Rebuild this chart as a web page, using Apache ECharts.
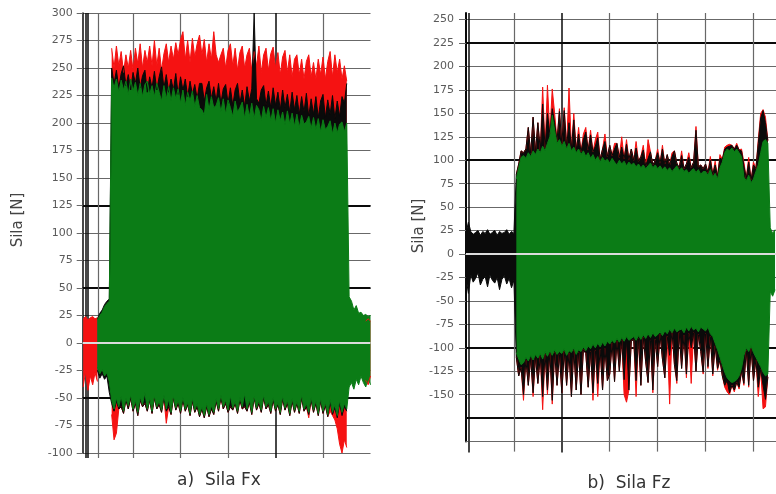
<!DOCTYPE html>
<html>
<head>
<meta charset="utf-8">
<script src="https://cdn.jsdelivr.net/npm/echarts@6/dist/echarts.min.js"></script>
<style>
  html, body { margin: 0; padding: 0; background: #fff; }
  #chart { width: 776px; height: 494px; }
</style>
</head>
<body>
<div id="chart"></div>
<script>
// ---- a) Sila Fx : sample times (grid units) and force envelopes [N]
const fxTime = [];
for (let i = 0; i < 122; i++) fxTime.push(-0.5 + 0.5 * i);

const fxRedHi = [22, 24, 21, 23, 24, 22, 23, null, null, null,
  null, null, 268, 250, 270, 252, 265, 246, 262, 250,
  266, 248, 268, 254, 272, 250, 266, 255, 270, 252,
  275, 252, 268, 248, 263, 272, 255, 270, 258, 273,
  262, 276, 283, 258, 275, 255, 277, 260, 272, 280,
  262, 276, 255, 272, 258, 283, 262, 255, 262, 268,
  250, 266, 272, 252, 268, 248, 264, 270, 250, 262,
  268, 248, 265, 252, 270, 246, 262, 268, 248, 263,
  269, 250, 264, 244, 260, 266, 246, 262, 242, 258,
  262, 244, 258, 240, 256, 262, 242, 255, 240, 258,
  244, 260, 240, 256, 265, 242, 262, 246, 258, 240,
  252, 238, null, null, null, null, null, null, null, 20,
  22, 20];
const fxRedLo = [-40, -26, -43, -30, -38, -27, -35, null, null, null,
  null, null, -65, -88, -82, -60, -58, -64, -52, -60,
  -50, -62, -55, -66, -52, -58, -55, -62, -52, -64,
  -50, -60, -56, -63, -50, -73, -58, -65, -50, -61,
  -55, -64, -52, -62, -56, -66, -53, -63, -58, -67,
  -60, -68, -58, -67, -60, -65, -53, -62, -50, -60,
  -55, -63, -58, -61, -55, -64, -52, -60, -58, -62,
  -54, -65, -50, -61, -55, -63, -50, -60, -56, -64,
  -52, -62, -56, -65, -51, -61, -55, -66, -53, -63,
  -55, -64, -50, -62, -58, -68, -52, -63, -55, -66,
  -53, -64, -57, -67, -62, -66, -70, -78, -92, -100,
  -88, -95, null, null, null, null, null, null, null, -34,
  -38, -30];
const fxBlackHi = [null, null, null, null, null, null, 22, 27, 30, 35,
  38, 40, 250, 236, 248, 232, 245, 252, 234, 244,
  230, 246, 236, 250, 232, 243, 248, 228, 242, 232,
  247, 230, 242, 251, 232, 244, 228, 240, 230, 245,
  226, 242, 230, 240, 224, 238, 226, 235, 222, 236,
  236, 220, 232, 238, 222, 233, 220, 236, 218, 231,
  235, 218, 232, 216, 230, 236, 218, 230, 215, 233,
  220, 231, 300, 222, 218, 230, 234, 216, 229, 214,
  232, 216, 228, 212, 230, 214, 226, 210, 228, 212,
  225, 208, 224, 210, 227, 206, 222, 208, 224, 205,
  220, 226, 205, 221, 208, 225, 204, 220, 206, 224,
  218, 236, null, null, null, null, null, null, null, null,
  null, null];
const fxBlackLo = [null, null, null, null, null, null, -25, -32, -28, -33,
  -30, -45, -55, -62, -53, -60, -58, -64, -52, -60,
  -50, -62, -55, -66, -52, -58, -55, -62, -52, -64,
  -50, -60, -56, -63, -50, -62, -58, -65, -50, -61,
  -55, -64, -52, -62, -56, -66, -53, -63, -58, -67,
  -60, -68, -58, -67, -60, -65, -53, -62, -50, -60,
  -55, -63, -58, -61, -55, -64, -52, -60, -58, -62,
  -54, -65, -50, -61, -55, -63, -50, -60, -56, -64,
  -52, -62, -56, -65, -51, -61, -55, -66, -53, -63,
  -55, -64, -50, -62, -58, -65, -52, -63, -55, -66,
  -53, -64, -57, -67, -54, -65, -59, -68, -55, -66,
  -58, -62, null, null, null, null, null, null, null, null,
  null, null];
const fxGreenHi = [null, null, null, null, null, null, 21, 25, 28, 33,
  36, 38, 241, 232, 240, 228, 239, 230, 238, 226,
  240, 229, 237, 225, 236, 224, 235, 238, 226, 234,
  224, 236, 228, 220, 234, 222, 233, 220, 232, 222,
  231, 218, 230, 216, 228, 220, 229, 215, 225, 214,
  212, 207, 226, 212, 224, 214, 216, 223, 210, 222,
  208, 221, 214, 206, 220, 210, 214, 219, 204, 217,
  206, 218, 204, 216, 212, 202, 215, 205, 214, 202,
  213, 200, 212, 202, 210, 198, 211, 199, 209, 197,
  208, 196, 207, 199, 201, 206, 195, 205, 194, 204,
  192, 203, 194, 197, 202, 190, 200, 191, 199, 201,
  192, 200, 42, 38, 30, 34, 27, 28, 25, 26,
  24, 25];
const fxGreenLo = [null, null, null, null, null, null, -22, -28, -24, -30,
  -27, -35, -52, -60, -50, -58, -48, -62, -50, -57,
  -47, -60, -52, -63, -49, -56, -45, -60, -50, -62,
  -48, -58, -53, -61, -47, -60, -51, -63, -48, -59,
  -52, -62, -49, -60, -54, -64, -50, -61, -55, -65,
  -58, -66, -55, -65, -57, -63, -50, -60, -47, -58,
  -52, -61, -48, -59, -53, -62, -49, -58, -46, -60,
  -51, -63, -48, -59, -52, -61, -47, -58, -53, -62,
  -49, -60, -54, -63, -48, -59, -52, -64, -50, -61,
  -53, -62, -47, -60, -55, -63, -49, -61, -52, -64,
  -50, -62, -54, -65, -51, -63, -56, -66, -52, -63,
  -55, -60, -40, -36, -42, -33, -38, -30, -36, -40,
  -32, -38];

// grid / tick positions for a)
const fxGridX = [2.57, 10, 20, 30, 50];
const fxGridXDark = [0, 0.46, 40];
const fxGridYDark = [125, 50, -50];

// ---- b) Sila Fz
const fzTime = [];
for (let i = 0; i < 130; i++) fzTime.push(0.5 * i);

const fzRedHi = [null, null, null, null, null, null, null, null, null, null,
  null, null, null, null, null, null, null, null, null, null,
  null, 85, 96, 110, 108, 112, 135, 107, 146, 109,
  140, 111, 178, 113, 180, 128, 176, 150, 121, 155,
  118, 156, 115, 177, 113, 150, 111, 135, 109, 128,
  135, 111, 132, 109, 122, 130, 101, 112, 128, 104,
  116, 105, 118, 118, 103, 125, 102, 122, 101, 112,
  100, 120, 99, 104, 116, 94, 122, 109, 95, 100,
  112, 97, 116, 96, 106, 95, 108, 110, 97, 92,
  110, 91, 96, 108, 92, 98, 136, 93, 95, 91,
  96, 87, 104, 85, 99, 83, 106, 101, 114, 116,
  117, 116, 112, 118, 111, 112, 98, 81, 103, 79,
  98, 91, 122, 150, 154, 146, 121, null, null, null];
const fzRedLo = [null, null, null, null, null, null, null, null, null, null,
  null, null, null, null, null, null, null, null, null, null,
  null, -110, -130, -121, -156, -113, -140, -111, -152, -110,
  -138, -109, -166, -107, -150, -106, -160, -105, -140, -107,
  -148, -104, -140, -106, -152, -103, -145, -105, -150, -102,
  -106, -142, -104, -156, -103, -152, -102, -145, -101, -135,
  -128, -95, -136, -93, -125, -92, -150, -158, -145, -93,
  -91, -152, -90, -140, -89, -115, -137, -92, -148, -91,
  -120, -86, -112, -132, -88, -160, -83, -118, -138, -84,
  -122, -87, -132, -85, -138, -84, -125, -86, -104, -128,
  -85, -122, -88, -130, -98, -124, -113, -130, -142, -147,
  -150, -140, -147, -137, -144, -125, -140, -103, -142, -101,
  -135, -113, -152, -123, -165, -163, -131, null, null, null];
const fzBlackHi = [22, 34, 24, 21, 23, 25, 20, 24, 22, 26,
  21, 23, 25, 20, 24, 22, 23, 26, 21, 24,
  22, 85, 96, 110, 108, 112, 135, 107, 146, 109,
  140, 111, 160, 113, 150, 128, 155, 140, 121, 152,
  118, 153, 115, 140, 113, 143, 111, 128, 109, 122,
  130, 111, 127, 109, 115, 124, 101, 112, 120, 104,
  116, 105, 112, 118, 103, 114, 102, 117, 101, 112,
  100, 113, 99, 104, 111, 94, 102, 109, 95, 100,
  108, 97, 112, 96, 106, 95, 104, 110, 97, 92,
  105, 91, 96, 103, 92, 98, 132, 93, 95, 91,
  96, 87, 100, 85, 95, 83, 102, 101, 112, 114,
  115, 116, 112, 116, 111, 110, 94, 81, 98, 79,
  95, 91, 118, 145, 153, 140, 121, null, null, null];
const fzBlackLo = [-25, -42, -22, -30, -26, -20, -33, -27, -24, -35,
  -22, -28, -31, -25, -38, -27, -23, -32, -26, -36,
  -28, -110, -130, -121, -150, -113, -140, -111, -148, -110,
  -138, -109, -152, -107, -145, -106, -156, -105, -140, -107,
  -148, -104, -140, -106, -152, -103, -145, -105, -150, -102,
  -106, -142, -104, -148, -103, -138, -102, -145, -101, -135,
  -128, -95, -136, -93, -125, -92, -134, -91, -145, -93,
  -91, -135, -90, -140, -89, -115, -137, -92, -145, -91,
  -120, -86, -112, -132, -88, -108, -83, -118, -135, -84,
  -122, -87, -128, -85, -100, -84, -125, -86, -104, -126,
  -85, -120, -88, -128, -98, -122, -113, -130, -140, -135,
  -148, -140, -145, -137, -142, -125, -138, -103, -140, -101,
  -135, -113, -142, -123, -140, -155, -131, null, null, null];
const fzGreenHi = [null, null, null, null, null, null, null, null, null, null,
  null, null, null, null, null, null, null, null, null, null,
  null, 80, 92, 103, 105, 102, 108, 104, 110, 106,
  112, 108, 115, 110, 118, 125, 148, 132, 118, 122,
  115, 120, 112, 118, 110, 114, 108, 112, 106, 110,
  104, 108, 102, 106, 100, 104, 98, 103, 99, 101,
  97, 102, 98, 95, 100, 96, 99, 94, 98, 95,
  97, 93, 96, 92, 95, 91, 94, 97, 92, 95,
  91, 94, 90, 93, 89, 92, 88, 91, 94, 89,
  92, 88, 90, 86, 89, 91, 87, 90, 85, 88,
  88, 84, 90, 82, 86, 80, 92, 98, 108, 112,
  110, 113, 109, 112, 108, 104, 82, 78, 84, 76,
  80, 88, 95, 108, 120, 122, 118, 28, 22, 26];
const fzGreenLo = [null, null, null, null, null, null, null, null, null, null,
  null, null, null, null, null, null, null, null, null, null,
  null, -105, -112, -118, -116, -110, -114, -108, -113, -107,
  -111, -106, -112, -104, -109, -103, -108, -102, -107, -104,
  -106, -101, -108, -103, -105, -100, -107, -102, -104, -99,
  -103, -98, -101, -96, -100, -95, -99, -94, -98, -93,
  -96, -92, -95, -90, -94, -89, -93, -88, -92, -90,
  -88, -92, -87, -91, -86, -90, -85, -89, -84, -88,
  -86, -83, -87, -82, -85, -80, -84, -79, -83, -81,
  -80, -84, -78, -82, -77, -81, -79, -83, -78, -80,
  -82, -78, -85, -88, -95, -102, -110, -118, -126, -132,
  -135, -137, -136, -134, -130, -122, -108, -100, -104, -98,
  -105, -110, -115, -120, -126, -130, -128, -40, -45, -38];

// grid / tick positions for b)
const fzGridX = [10, 30, 40, 50, 60];
const fzGridXDark = [0.63, 20];
const fzTickY = [-150, -125, -100, -75, -50, -25, 0, 25, 50, 75, 100, 125, 150, 175, 200, 225, 250];
const fzGridYDark = [225, 100, -100, -175];

const RED = '#f51212', BLACK = '#0a0a0a', GREEN = '#0b7c16';
const GREY = '#686868', LABEL = '#5a5a5a';

function band(xIdx, yIdx, times, vals, color) {
  return {
    type: 'line',
    xAxisIndex: xIdx,
    yAxisIndex: yIdx,
    data: times.map((t, i) => [t, vals[i] == null ? '-' : vals[i]]),
    symbol: 'none',
    silent: true,
    animation: false,
    connectNulls: false,
    lineStyle: { color: color, width: 1 },
    areaStyle: { color: color, opacity: 1 }
  };
}

function zeroLine() {
  return {
    silent: true,
    animation: false,
    symbol: ['none', 'none'],
    label: { show: false },
    lineStyle: { color: '#dcdcdc', width: 2, type: 'solid' },
    data: [{ yAxis: 0 }]
  };
}

function gridX(grid, min, max, values, color, width, tickLen) {
  return {
    type: 'value', gridIndex: grid, position: 'bottom', min: min, max: max,
    axisLine: { show: false, onZero: false },
    axisLabel: { show: false },
    axisTick: { show: true, length: tickLen, customValues: values, lineStyle: { color: color, width: width } },
    splitLine: { show: true, lineStyle: { color: color, width: width, type: 'solid' } }
  };
}

const chart = echarts.init(document.getElementById('chart'), null, { renderer: 'canvas' });

const series = [
  band(0, 0, fxTime, fxRedHi, RED),
  band(0, 0, fxTime, fxRedLo, RED),
  band(0, 0, fxTime, fxBlackHi, BLACK),
  band(0, 0, fxTime, fxBlackLo, BLACK),
  band(0, 0, fxTime, fxGreenHi, GREEN),
  band(0, 0, fxTime, fxGreenLo, GREEN),
  band(2, 2, fzTime, fzRedHi, RED),
  band(2, 2, fzTime, fzRedLo, RED),
  band(2, 2, fzTime, fzBlackHi, BLACK),
  band(2, 2, fzTime, fzBlackLo, BLACK),
  band(2, 2, fzTime, fzGreenHi, GREEN),
  band(2, 2, fzTime, fzGreenLo, GREEN)
];
series[5].markLine = zeroLine();
series[11].markLine = zeroLine();

const fzRightX = gridX(1, 0, 64.7, fzGridX, GREY, 1.2, 10);
fzRightX.axisLine = { show: true, onZero: false, lineStyle: { color: GREY, width: 1.2 } };

chart.setOption({
  animation: false,
  backgroundColor: '#fff',
  textStyle: { fontFamily: 'DejaVu Sans' },
  grid: [
    { left: 82.7, top: 13, width: 287.8, height: 440, outerBoundsMode: 'none', containLabel: false },
    { left: 466, top: 13, width: 310, height: 428.6, outerBoundsMode: 'none', containLabel: false }
  ],
  xAxis: [
    gridX(0, -0.6, 60, fxGridX, GREY, 1.2, 5),
    gridX(0, -0.6, 60, fxGridXDark, BLACK, 1.5, 5),
    fzRightX,
    gridX(1, 0, 64.7, fzGridXDark, BLACK, 1.5, 11)
  ],
  yAxis: [
    {
      type: 'value', gridIndex: 0, position: 'left', min: -100, max: 300, interval: 25,
      axisLine: { show: true, onZero: false, lineStyle: { color: BLACK, width: 1.5 } },
      axisTick: { show: true, length: 6, lineStyle: { color: GREY } },
      axisLabel: { margin: 10, color: LABEL, fontSize: 11, fontFamily: 'DejaVu Sans' },
      splitLine: { show: true, lineStyle: { color: GREY, width: 1.2, type: 'solid' } }
    },
    {
      type: 'value', gridIndex: 0, position: 'left', min: -100, max: 300,
      axisLine: { show: false, onZero: false },
      axisTick: { show: false, customValues: fxGridYDark },
      axisLabel: { show: false },
      splitLine: { show: true, lineStyle: { color: BLACK, width: 2, type: 'solid' } }
    },
    {
      type: 'value', gridIndex: 1, position: 'left', min: -200, max: 257,
      axisLine: { show: true, onZero: false, lineStyle: { color: BLACK, width: 2 } },
      axisTick: { show: true, length: 7, customValues: fzTickY, lineStyle: { color: GREY } },
      axisLabel: { margin: 12, color: LABEL, fontSize: 11, fontFamily: 'DejaVu Sans', customValues: fzTickY },
      splitLine: { show: true, lineStyle: { color: GREY, width: 1.2, type: 'solid' } }
    },
    {
      type: 'value', gridIndex: 1, position: 'left', min: -200, max: 257,
      axisLine: { show: false, onZero: false },
      axisTick: { show: false, customValues: fzGridYDark },
      axisLabel: { show: false },
      splitLine: { show: true, lineStyle: { color: BLACK, width: 2, type: 'solid' } }
    }
  ],
  graphic: [
    { type: 'text', x: 18, y: 220, rotation: Math.PI / 2, silent: true,
      style: { text: 'Sila [N]', fill: '#444', font: '15px "DejaVu Sans"', align: 'center', verticalAlign: 'middle' } },
    { type: 'text', x: 419, y: 226, rotation: Math.PI / 2, silent: true,
      style: { text: 'Sila [N]', fill: '#444', font: '15px "DejaVu Sans"', align: 'center', verticalAlign: 'middle' } },
    { type: 'text', x: 219, y: 481, silent: true,
      style: { text: 'a)  Sila Fx', fill: '#333', font: '17px "DejaVu Sans"', align: 'center', verticalAlign: 'middle' } },
    { type: 'text', x: 629, y: 484, silent: true,
      style: { text: 'b)  Sila Fz', fill: '#333', font: '17px "DejaVu Sans"', align: 'center', verticalAlign: 'middle' } }
  ],
  series: series
});
</script>
</body>
</html>
